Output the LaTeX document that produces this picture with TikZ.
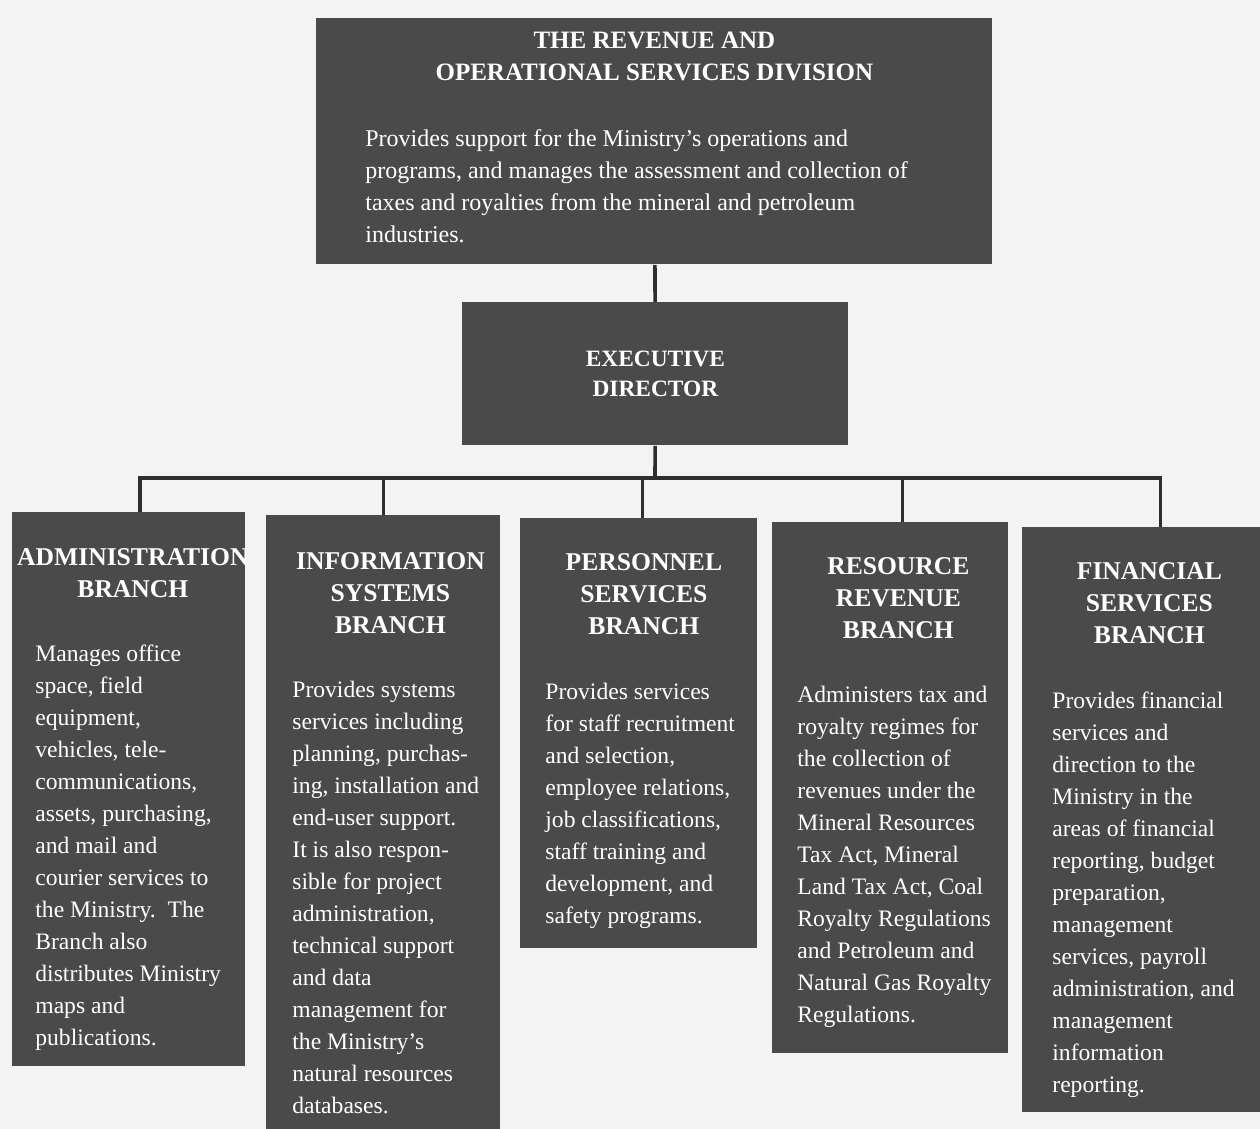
\documentclass[tikz,border=0pt]{standalone}
\usepackage{fontspec}
\setmainfont{Liberation Serif}
\usepackage{tikz}
\usetikzlibrary{positioning}

\definecolor{boxgray}{HTML}{4A4A4A}
\definecolor{linegray}{HTML}{2E2E2E}
\definecolor{paper}{HTML}{F3F3F3}

\begin{document}
\begin{tikzpicture}[x=0.5pt,y=-0.5pt,
  box/.style={fill=boxgray,anchor=north west,inner sep=0pt},
  head/.style={text=white,font=\bfseries\fontsize{12.8}{16}\selectfont,align=center,inner sep=0pt},
  body/.style={text=white,font=\fontsize{11.8}{16}\selectfont,align=left,inner sep=0pt},
  link/.style={draw=linegray,line width=1.8pt}]
  \fill[paper] (0,0) rectangle (1260,1129);
  \useasboundingbox (0,0) rectangle (1260,1129);

  % division and director
  \node[box,minimum width=338pt,minimum height=123pt] (div) at (316,18) {};
  \node[head,font=\bfseries\fontsize{12.5}{16}\selectfont,below=7pt of div.north] (divhead)
    {THE REVENUE AND\\OPERATIONAL SERVICES DIVISION};
  \node[body,font=\fontsize{12}{16}\selectfont,below right=55.5pt and 24.5pt of div.north west] (divtext)
    {Provides support for the Ministry's operations and\\
     programs, and manages the assessment and collection of\\
     taxes and royalties from the mineral and petroleum\\
     industries.};

  \node[box,minimum width=193pt,minimum height=71.5pt] (exec) at (462,302) {};
  \node[head,font=\bfseries\fontsize{11.7}{15}\selectfont] (exechead) at (exec.center) {EXECUTIVE\\DIRECTOR};

  % branches
  \node[box,minimum width=116.5pt,minimum height=277pt] (adm) at (12,512) {};
  \node[box,minimum width=117pt,minimum height=307pt] (info) at (266,515) {};
  \node[box,minimum width=118.5pt,minimum height=215pt] (pers) at (520,518) {};
  \node[box,minimum width=118pt,minimum height=265.5pt] (res) at (772,522) {};
  \node[box,minimum width=119pt,minimum height=292.5pt] (fin) at (1022,527) {};

  \node[head,below=18pt of adm.north,xshift=2pt] (admhead) {ADMINISTRATION\\BRANCH};
  \node[head,below=18.5pt of info.north,xshift=3.5pt] (infohead) {INFORMATION\\SYSTEMS\\BRANCH};
  \node[head,below=17.5pt of pers.north,xshift=2.5pt] (pershead) {PERSONNEL\\SERVICES\\BRANCH};
  \node[head,below=17.5pt of res.north,xshift=4pt] (reshead) {RESOURCE\\REVENUE\\BRANCH};
  \node[head,below=17.5pt of fin.north,xshift=4pt] (finhead) {FINANCIAL\\SERVICES\\BRANCH};

  \node[body,below right=66pt and 11.5pt of adm.north west] (admtext)
    {Manages office\\ space, field\\ equipment,\\ vehicles, tele-\\ communications,\\
     assets, purchasing,\\ and mail and\\ courier services to\\ the Ministry.\ \ The\\
     Branch also\\ distributes Ministry\\ maps and\\ publications.};
  \node[body,below right=83pt and 13pt of info.north west] (infotext)
    {Provides systems\\ services including\\ planning, purchas-\\ ing, installation and\\
     end-user support.\\ It is also respon-\\ sible for project\\ administration,\\
     technical support\\ and data\\ management for\\ the Ministry's\\
     natural resources\\ databases.};
  \node[body,below right=82.5pt and 12.5pt of pers.north west] (perstext)
    {Provides services\\ for staff recruitment\\ and selection,\\ employee relations,\\
     job classifications,\\ staff training and\\ development, and\\ safety programs.};
  \node[body,below right=82pt and 12.5pt of res.north west] (restext)
    {Administers tax and\\ royalty regimes for\\ the collection of\\ revenues under the\\
     Mineral Resources\\ Tax Act, Mineral\\ Land Tax Act, Coal\\ Royalty Regulations\\
     and Petroleum and\\ Natural Gas Royalty\\ Regulations.};
  \node[body,below right=82pt and 15pt of fin.north west] (fintext)
    {Provides financial\\ services and\\ direction to the\\ Ministry in the\\
     areas of financial\\ reporting, budget\\ preparation,\\ management\\
     services, payroll\\ administration, and\\ management\\ information\\ reporting.};

  % connectors
  \coordinate (bar) at (655,478);
  \draw[link] (div) -- (exec);
  \draw[link] (exec) -- (bar);
  \draw[link] ([xshift=5.5pt]adm.north) |- (bar) -| ([xshift=9.5pt]fin.north);
  \foreach \b/\dx in {info/0,pers/1.75,res/6}
    \draw[link] ([xshift=\dx pt]\b.north) -- ([xshift=\dx pt]\b.north |- bar);
\end{tikzpicture}
\end{document}
